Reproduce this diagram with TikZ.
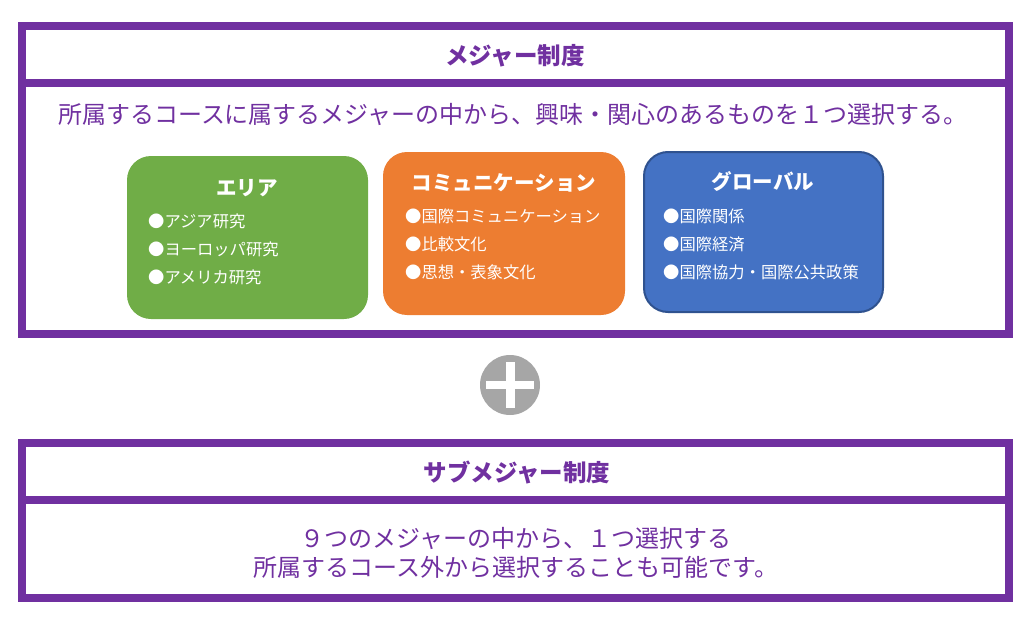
\documentclass[tikz,border=0pt]{standalone}
\usepackage{fontspec}
\setmainfont{Noto Sans CJK JP}
\usepackage{xcolor}
\definecolor{majorpurple}{HTML}{7030A0}
\definecolor{areagreen}{HTML}{70AD47}
\definecolor{commorange}{HTML}{ED7D31}
\definecolor{globalblue}{HTML}{4472C4}
\definecolor{globaledge}{HTML}{2F528F}
\definecolor{plusgray}{HTML}{A6A6A6}

\begin{document}
\begin{tikzpicture}[x=1pt,y=-1pt,
  frameline/.style={draw=majorpurple,line width=8pt},
  headtext/.style={text=majorpurple,font=\fontsize{23.5}{27}\selectfont\bfseries},
  bodytext/.style={text=majorpurple,align=center,font=\fontsize{24}{29}\selectfont},
  fieldbox/.style={rounded corners=24pt},
  fieldhead/.style={text=white,font=\fontsize{20.5}{24}\selectfont\bfseries},
  fielditem/.style={text=white,anchor=west,inner sep=0pt,font=\fontsize{16.3}{19}\selectfont}]
\useasboundingbox (0,0) rectangle (1034,626);

% major frame
\draw[frameline] (22,26) rectangle (1009,334);
\draw[frameline] (22,83) -- (1009,83);
\node[headtext] (majorhead) at (515,56) {メジャー制度};
\node[bodytext] (majortext) at (513,115) {所属するコースに属するメジャーの中から、興味・関心のあるものを１つ選択する。};

% the three majors
\fill[areagreen,fieldbox] (127,156) rectangle (368,319);
\fill[commorange,fieldbox] (383,152) rectangle (625,315);
\filldraw[fill=globalblue,draw=globaledge,line width=2pt,fieldbox] (644,152) rectangle (883,312);

\node[fieldhead] (areahead) at (247,188) {エリア};
\node[fieldhead] (commhead) at (504,183) {コミュニケーション};
\node[fieldhead] (globalhead) at (763,182) {グローバル};

\foreach \entry [count=\i] in {アジア研究,ヨーロッパ研究,アメリカ研究}
  \node[fielditem] (area\i) at (148,193+28*\i) {●\entry};
\foreach \entry [count=\i] in {国際コミュニケーション,比較文化,思想・表象文化}
  \node[fielditem] (comm\i) at (405,188+28*\i) {●\entry};
\foreach \entry [count=\i] in {国際関係,国際経済,国際協力・国際公共政策}
  \node[fielditem] (global\i) at (663,188+28*\i) {●\entry};

% plus sign
\node[circle,fill=plusgray,minimum size=60pt,inner sep=0pt] (plus) at (510,385) {};
\fill[white] (plus.center) ++(-24,-4) rectangle ++(48,8);
\fill[white] (plus.center) ++(-4.5,-23) rectangle ++(9,46);

% sub major frame
\draw[frameline] (22,443) rectangle (1009,598);
\draw[frameline] (22,500) -- (1009,500);
\node[headtext] (subhead) at (517,473) {サブメジャー制度};
\node[bodytext] (subtext) at (516,553) {９つのメジャーの中から、１つ選択する\\所属するコース外から選択することも可能です。};

\end{tikzpicture}
\end{document}
